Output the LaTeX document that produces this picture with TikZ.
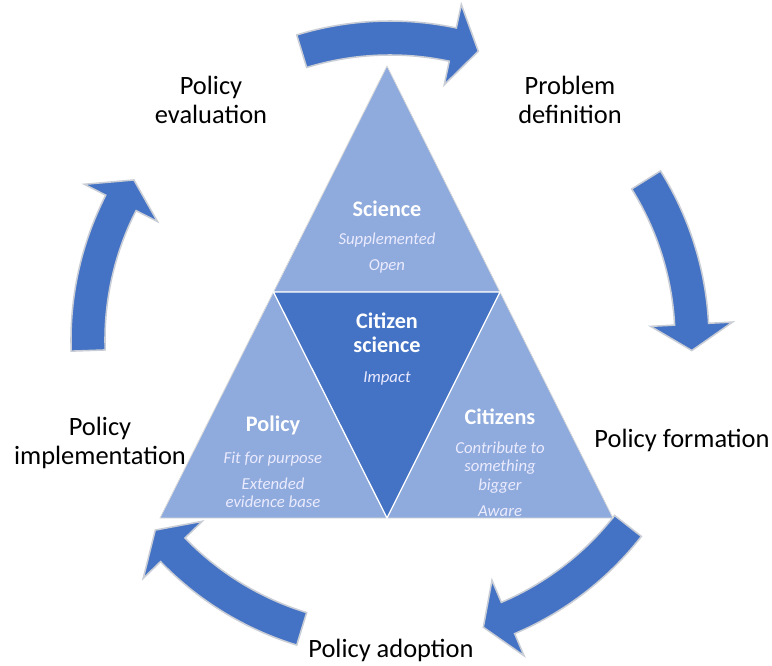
\documentclass[tikz,border=0pt]{standalone}
\usepackage{fontspec}
\setmainfont{Carlito}
\usetikzlibrary{positioning}

\definecolor{triLight}{HTML}{8FAADC}
\definecolor{triDark}{HTML}{4472C4}
\definecolor{arrowEdge}{HTML}{C9CDD6}

\begin{document}
\begin{tikzpicture}[x=0.025cm, y=-0.025cm,
    outertri/.style={fill=triLight, draw=white!72!gray, line width=0.6pt},
    innertri/.style={fill=triDark, draw=white, line width=0.9pt},
    cyclearrow/.style={fill=triDark, draw=arrowEdge, line width=1.1pt},
    cyclelabel/.style={align=center, font=\fontsize{18.8}{20.6}\selectfont},
    headtxt/.style={text=white, align=center, font=\fontsize{15.8}{17}\selectfont\bfseries},
    subtxt/.style={text=white!92!blue, align=center, font=\fontsize{11.9}{13.2}\selectfont\itshape}]
            \useasboundingbox (0,0) rectangle (772,666);

            % Cycle arrows
            \begin{scope}[shift={(390,340)}, yscale=-1]
                \foreach \c in {90,15,-55,-124,165}{
                    \draw[cyclearrow] (\c+17:319) arc[start angle=\c+17, end angle=\c-12, radius=319]
                        -- (\c-12:343) -- (\c-17:302) -- (\c-12:261) -- (\c-12:285)
                        arc[start angle=\c-12, end angle=\c+17, radius=285] -- cycle;
                }
            \end{scope}

            % Triangle corners
            \coordinate (apex) at (387,66);
            \coordinate (bl) at (160,518);
            \coordinate (br) at (613,518);
            \coordinate (ml) at (273.5,292);
            \coordinate (mr) at (500,292);
            \coordinate (mb) at (387,518);

            % Triangles
            \draw[outertri] (apex) -- (ml) -- (mr) -- cycle;
            \draw[outertri] (bl) -- (ml) -- (mb) -- cycle;
            \draw[outertri] (mb) -- (mr) -- (br) -- cycle;
            \draw[innertri] (ml) -- (mr) -- (mb) -- cycle;

            % Triangle texts
            \node (sciHead) [headtxt] at (387,209) {Science};
            \node (sciSub) [subtxt] at (387,253) {Supplemented\\[5pt]Open};
            \node (csHead) [headtxt] at (387,333) {Citizen\\science};
            \node (csSub) [subtxt] at (387,378) {Impact};
            \node (polHead) [headtxt] at (273,425) {Policy};
            \node (polSub) [subtxt] at (273,480) {Fit for purpose\\[5pt]Extended\\evidence base};
            \node (citHead) [headtxt] at (500,417) {Citizens};
            \node (citSub) [subtxt] at (500,479) {Contribute to\\something\\bigger\\[5pt]Aware};

            % Cycle labels
            \node (evalLbl) [cyclelabel] at (211,100) {Policy\\evaluation};
            \node (probLbl) [cyclelabel] at (570,100) {Problem\\definition};
            \node (formLbl) [cyclelabel] at (682,440) {Policy formation};
            \node (adoptLbl) [cyclelabel] at (391,650) {Policy adoption};
            \node (implLbl) [cyclelabel] at (100,443) {Policy\\implementation};

\end{tikzpicture}
\end{document}
